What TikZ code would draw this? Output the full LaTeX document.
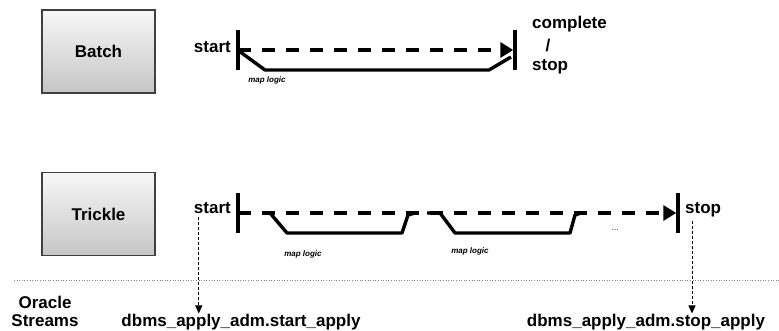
\documentclass[tikz,border=0pt]{standalone}
\usepackage{fontspec}
\setmainfont{Liberation Sans}
\usetikzlibrary{arrows.meta}

\tikzset{
  procbox/.style={draw=black!75, line width=1.2pt, top color=gray!6, bottom color=gray!45,
    minimum width=113pt, minimum height=83pt, font=\fontsize{17}{20}\selectfont\bfseries},
  lbl/.style={inner sep=0pt, font=\fontsize{17}{20}\selectfont\bfseries},
  maplbl/.style={inner sep=0pt, font=\fontsize{8}{9}\selectfont\bfseries\itshape},
  tick/.style={line width=3.4pt},
  flow/.style={line width=3.4pt, dash pattern=on 13pt off 11pt,
    -{Triangle[length=13pt,width=15pt]}, shorten >=1.7pt},
  maplogic/.style={line width=3.4pt, line join=round},
  call/.style={line width=0.8pt, dash pattern=on 3pt off 2pt,
    -{Triangle[length=8pt,width=7pt]}},
  sep/.style={gray, line width=0.6pt, dotted}
}

\begin{document}
\begin{tikzpicture}[x=1pt, y=-1pt]
	\useasboundingbox (0,0) rectangle (779,331);
	\begin{scope}
		\node[procbox] (batch) at (98.5,51.5) {Batch};
		\coordinate (bs) at (238,50);
		\coordinate (be) at (515,50);
		\node[lbl, anchor=base east] (bstart) at (231,53) {start};
		\node[lbl, anchor=base west] (bcomplete) at (532,29) {complete};
		\node[lbl, anchor=base] (bslash) at (548,52) {/};
		\node[lbl, anchor=base west] (bstop) at (532,71) {stop};
		\node[maplbl] (bmap) at (267,80) {map logic};
		\draw[tick] (bs) ++(0,-20) -- ++(0,40);
		\draw[tick] (be) ++(0,-20) -- ++(0,40);
		\draw[maplogic] (bs) ++(1,1) -- (265,70) -- (489,70) -- (511,57);
		\draw[flow] (bs) -- (be);
	\end{scope}
	\begin{scope}
		\node[procbox] (trickle) at (98.5,214) {Trickle};
		\coordinate (ts) at (238,213);
		\coordinate (te) at (678,213);
		\node[lbl, anchor=base east] (tstart) at (231,214) {start};
		\node[lbl, anchor=base west] (tstop) at (685,214) {stop};
		\node[maplbl] (tmap1) at (303,254) {map logic};
		\node[maplbl] (tmap2) at (470,251) {map logic};
		\node[maplbl, font=\fontsize{9}{9}\selectfont, text=black!70] (more) at (615,230) {...};
		\draw[tick] (ts) ++(0,-20) -- ++(0,40);
		\draw[tick] (te) ++(0,-20) -- ++(0,40);
		\draw[maplogic] (263,213) -- (270,213) -- (287,233) -- (402,233) -- (408,215) -- (415,213);
		\draw[maplogic] (427,213) -- (440,213) -- (455,233) -- (570,233) -- (575,215) -- (581,213);
		\draw[flow] (ts) -- (te);
	\end{scope}
	\draw[sep] (14,280) -- (779,280);
	\node[lbl, align=center, font=\fontsize{17}{18}\selectfont\bfseries] (streams) at (45,311) {Oracle\\Streams};
	\node[lbl, anchor=base] (startcall) at (241,326) {dbms\_apply\_adm.start\_apply};
	\node[lbl, anchor=base] (stopcall) at (646,326) {dbms\_apply\_adm.stop\_apply};
	\draw[call] ([xshift=5pt,yshift=-3pt]tstart.south west) -- ([xshift=5pt]tstart.south west |- startcall.north);
	\draw[call] ([xshift=7pt,yshift=-3pt]tstop.south west) -- ([xshift=7pt]tstop.south west |- stopcall.north);
\end{tikzpicture}
\end{document}
